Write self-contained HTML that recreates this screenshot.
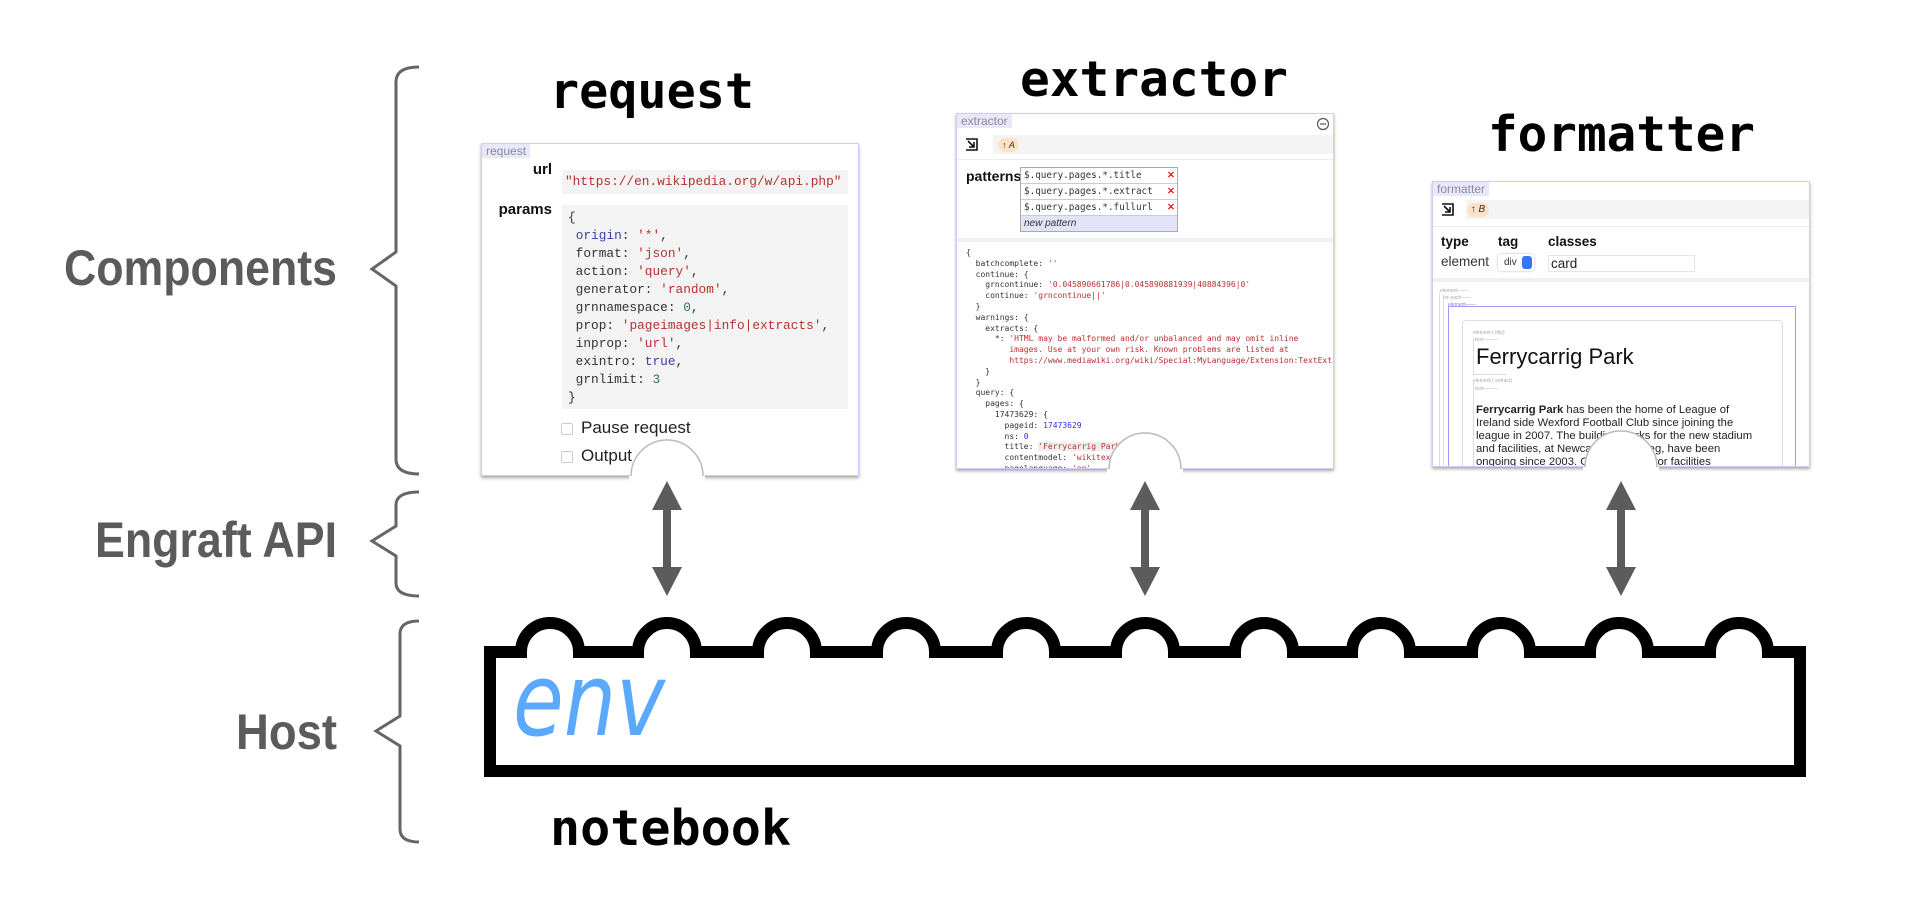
<!DOCTYPE html>
<html><head><meta charset="utf-8"><style>
*{margin:0;padding:0;box-sizing:border-box}
body{width:1920px;height:919px;background:#fff;position:relative;overflow:hidden;font-family:"Liberation Sans",sans-serif}
svg.layer{position:absolute;left:0;top:0}
.panel{position:absolute;background:#fff;border:1.5px solid #cfcdf3;box-shadow:0 2px 3px rgba(0,0,0,.35);overflow:hidden}
.abs{position:absolute}
.tag{position:absolute;left:0;top:0;background:#e9e8f9;color:#8a8aa0;font-size:12px;line-height:14px;padding:0 4px}
.mono{font-family:"DejaVu Sans Mono","Liberation Mono",monospace;white-space:pre}
.lmono{font-family:"Liberation Mono",monospace;white-space:pre}
.s{color:#b83030}.k{color:#4040a8}.n{color:#2a7a50}.b{color:#3030e0}
.lbl{font-weight:bold;color:#111}
.cb{position:absolute;width:12px;height:12px;border:1px solid #ccc;border-radius:2px;background:#fff}
.bar{position:absolute;background:#f4f4f4}
.pill{position:absolute;background:#fde3c4;border-radius:7px;font-size:10px;line-height:14px;font-style:italic;color:#333;text-align:center}
.tiny{position:absolute;font-size:5px;color:#aaa;line-height:6px}
</style></head><body>

<svg class="layer" width="1920" height="919" viewBox="0 0 1920 919">
  <g fill="none" stroke="#666" stroke-width="3" stroke-linejoin="miter">
    <path d="M419,67 Q396,67 396,82 V252 L372,269 L396,286 V459 Q396,474 419,474"/>
    <path d="M419,492 Q396,492 396,505 V526 L372,541 L396,556 V583 Q396,596 419,596"/>
    <path d="M419,621 Q400,621 400,634 V716 L376,731 L400,746 V829 Q400,842 419,842"/>
  </g>
  <g font-family="Liberation Sans, sans-serif" font-weight="bold" fill="#5b5b5b" font-size="50">
    <text x="64" y="285" textLength="273" lengthAdjust="spacingAndGlyphs">Components</text>
    <text x="95" y="557" textLength="242" lengthAdjust="spacingAndGlyphs">Engraft API</text>
    <text x="236" y="749" textLength="101" lengthAdjust="spacingAndGlyphs">Host</text>
  </g>
  <g font-family="DejaVu Sans Mono, Liberation Mono, monospace" font-weight="bold" fill="#000" font-size="49">
    <text x="550" y="108" textLength="204" lengthAdjust="spacingAndGlyphs">request</text>
    <text x="1020" y="96" textLength="268" lengthAdjust="spacingAndGlyphs">extractor</text>
    <text x="1488" y="151" textLength="267" lengthAdjust="spacingAndGlyphs">formatter</text>
    <text x="550" y="845" textLength="241" lengthAdjust="spacingAndGlyphs">notebook</text>
  </g>
  <path fill="#fff" stroke="#000" stroke-width="12" stroke-linejoin="miter"
    d="M490,652 H521 A29,29 0 0 1 579,652 H638 A29,29 0 0 1 696,652 H758 A29,29 0 0 1 816,652 H877 A29,29 0 0 1 935,652 H997 A29,29 0 0 1 1055,652 H1116 A29,29 0 0 1 1174,652 H1235 A29,29 0 0 1 1293,652 H1352 A29,29 0 0 1 1410,652 H1472 A29,29 0 0 1 1530,652 H1590 A29,29 0 0 1 1648,652 H1710 A29,29 0 0 1 1768,652 H1800 V771 H490 Z"/>
  <text x="513" y="735" font-family="DejaVu Sans, sans-serif" font-style="italic" font-size="101" fill="#5aa9ff" textLength="152" lengthAdjust="spacingAndGlyphs">env</text>
</svg>

<!-- request panel -->
<div class="panel" style="left:481px;top:143px;width:378px;height:333px">
  <div class="tag">request</div>
  <div class="abs lbl" style="left:0;top:17px;width:70px;text-align:right;font-size:15px">url</div>
  <div class="abs lmono s" style="left:80px;top:26px;width:286px;height:24px;background:#f3f3f3;font-size:12.8px;line-height:24px;padding-left:3px">"https://en.wikipedia.org/w/api.php"</div>
  <div class="abs lbl" style="left:0;top:57px;width:70px;text-align:right;font-size:15px">params</div>
  <div class="abs lmono" style="left:80px;top:61px;width:286px;height:204px;background:#f3f3f3;font-size:12.8px;line-height:18px;padding:4px 0 0 6px;color:#333">{
 <span class="k">origin</span>: <span class="s">'*'</span>,
 format: <span class="s">'json'</span>,
 action: <span class="s">'query'</span>,
 generator: <span class="s">'random'</span>,
 grnnamespace: <span class="n">0</span>,
 prop: <span class="s">'pageimages|info|extracts'</span>,
 inprop: <span class="s">'url'</span>,
 exintro: <span class="k">true</span>,
 grnlimit: <span class="n">3</span>
}</div>
  <div class="cb" style="left:79px;top:279px"></div>
  <div class="abs" style="left:99px;top:274px;font-size:17px;line-height:20px;color:#222">Pause request</div>
  <div class="cb" style="left:79px;top:307px"></div>
  <div class="abs" style="left:99px;top:302px;font-size:17px;line-height:20px;color:#222">Output all</div>
</div>

<!-- extractor panel -->
<div class="panel" style="left:956px;top:113px;width:378px;height:356px">
  <div class="tag">extractor</div>
  <svg class="abs" style="left:359px;top:3px" width="14" height="14"><circle cx="7" cy="7" r="5.5" fill="none" stroke="#555" stroke-width="1.2"/><line x1="4" y1="7" x2="10" y2="7" stroke="#555" stroke-width="1.2"/></svg>
  <div class="bar" style="left:36px;top:21px;width:341px;height:19px"></div>
  <svg class="abs" style="left:8px;top:24px" width="14" height="14"><path d="M1,1 H12 V12 H1" fill="none" stroke="#111" stroke-width="1.6"/><path d="M3,3 L9,9 M9,4 V9 H4" fill="none" stroke="#111" stroke-width="1.6"/></svg>
  <div class="pill" style="left:41px;top:24px;width:21px;font-size:9px">↑ A</div>
  <div class="abs" style="left:0;top:45px;width:378px;height:1px;background:#eceaf6"></div>
  <div class="abs lbl" style="left:9px;top:54px;font-size:14px">patterns</div>
  <div class="abs" style="left:63px;top:53px;width:158px;height:65px;border:1px solid #aaa;background:#fff">
    <div class="mono" style="height:16px;border-bottom:1px solid #ccc;font-size:9.3px;line-height:15px;padding-left:3px;color:#333;position:relative">$.query.pages.*.title<span style="position:absolute;left:146px;color:#e02020;font-weight:bold;font-family:'Liberation Sans'">✕</span></div>
    <div class="mono" style="height:16px;border-bottom:1px solid #ccc;font-size:9.3px;line-height:15px;padding-left:3px;color:#333;position:relative">$.query.pages.*.extract<span style="position:absolute;left:146px;color:#e02020;font-weight:bold;font-family:'Liberation Sans'">✕</span></div>
    <div class="mono" style="height:16px;border-bottom:1px solid #ccc;font-size:9.3px;line-height:15px;padding-left:3px;color:#333;position:relative">$.query.pages.*.fullurl<span style="position:absolute;left:146px;color:#e02020;font-weight:bold;font-family:'Liberation Sans'">✕</span></div>
    <div style="height:15px;background:#e2e2f8;font-size:10px;line-height:15px;font-style:italic;padding-left:3px;color:#333">new pattern</div>
  </div>
  <div class="abs" style="left:0;top:124px;width:378px;height:4px;background:#f0f0f2"></div>
  <div class="abs mono" style="left:9px;top:134px;font-size:8px;line-height:10.8px;color:#333">{
  batchcomplete: <span class="s">''</span>
  continue: {
    grncontinue: <span class="s">'0.045890661786|0.045890881939|40884396|0'</span>
    continue: <span class="s">'grncontinue||'</span>
  }
  warnings: {
    extracts: {
      *: <span class="s">'HTML may be malformed and/or unbalanced and may omit inline
         images. Use at your own risk. Known problems are listed at
         https://www.mediawiki.org/wiki/Special:MyLanguage/Extension:TextExt</span>
    }
  }
  query: {
    pages: {
      17473629: {
        pageid: <span class="b">17473629</span>
        ns: <span class="b">0</span>
        title: <span class="s" style="background:#eee">'Ferrycarrig Park'</span>
        contentmodel: <span class="s">'wikitext'</span>
        pagelanguage: <span class="s">'en'</span></div>
</div>

<!-- formatter panel -->
<div class="panel" style="left:1432px;top:181px;width:378px;height:286px">
  <div class="tag">formatter</div>
  <div class="bar" style="left:33px;top:18px;width:345px;height:19px"></div>
  <svg class="abs" style="left:8px;top:21px" width="14" height="14"><path d="M1,1 H12 V12 H1" fill="none" stroke="#111" stroke-width="1.6"/><path d="M3,3 L9,9 M9,4 V9 H4" fill="none" stroke="#111" stroke-width="1.6"/></svg>
  <div class="pill" style="left:34px;top:21px;width:22px">↑ B</div>
  <div class="abs" style="left:0;top:44px;width:378px;height:1px;background:#eceaf6"></div>
  <div class="abs lbl" style="left:8px;top:52px;font-size:13.5px">type</div>
  <div class="abs lbl" style="left:65px;top:52px;font-size:13.5px">tag</div>
  <div class="abs lbl" style="left:115px;top:52px;font-size:13.5px">classes</div>
  <div class="abs" style="left:8px;top:72px;font-size:13.5px;color:#333">element</div>
  <div class="abs" style="left:65px;top:72px;width:36px;height:17px;background:#fff;box-shadow:0 0 2px rgba(0,0,0,.3);border-radius:3px;font-size:10px;line-height:17px;padding-left:6px;color:#333">div<span style="position:absolute;right:2px;top:2px;width:10px;height:13px;background:#3478f6;border-radius:3px"></span></div>
  <div class="abs" style="left:115px;top:73px;width:147px;height:17px;border:1px solid #e5e5e5;font-size:13.5px;line-height:16px;padding-left:2px;color:#222">card</div>
  <div class="abs" style="left:0;top:96px;width:378px;height:4px;background:#efefef"></div>
  <div class="tiny" style="left:7px;top:106px">element——</div>
  <div class="abs" style="left:6px;top:110px;width:370px;height:200px;border-left:1px solid #ddd"></div>
  <div class="tiny" style="left:10px;top:113px">for-each——</div>
  <div class="abs" style="left:10px;top:117px;width:366px;height:200px;border-left:1px solid #ddd"></div>
  <div class="tiny" style="left:15px;top:120px;color:#8080e0">element——</div>
  <div class="abs" style="left:15px;top:124px;width:348px;height:200px;border:1px solid #9d9cf0"></div>
  <div class="abs" style="left:29px;top:138px;width:321px;height:200px;border:1px solid #ddd;border-radius:4px"></div>
  <div class="tiny" style="left:40px;top:148px">element (.title)</div>
  <div class="tiny" style="left:42px;top:155px">text———</div>
  <div class="abs" style="left:40px;top:155px;width:33px;height:38px;border-left:1px solid #ddd;border-bottom:1px solid #ddd"></div>
  <div class="abs" style="left:43px;top:163px;font-size:22px;line-height:24px;color:#111">Ferrycarrig Park</div>
  <div class="tiny" style="left:40px;top:196px">element (.extract)</div>
  <div class="tiny" style="left:42px;top:204px">text———</div>
  <div class="abs" style="left:40px;top:200px;width:20px;height:100px;border-left:1px solid #ddd"></div>
  <div class="abs" style="left:43px;top:222px;font-size:11.3px;line-height:13px;color:#222;white-space:nowrap"><b>Ferrycarrig Park</b> has been the home of League of<br>Ireland side Wexford Football Club since joining the<br>league in 2007. The building works for the new stadium<br>and facilities, at Newcastle, Drinabeg, have been<br>ongoing since 2003. Current spectator facilities</div>
</div>

<svg class="layer" width="1920" height="919" viewBox="0 0 1920 919">
  <g fill="#fff">
    <rect x="629" y="476" width="76" height="6"/>
    <rect x="1107" y="469" width="76" height="6"/>
    <rect x="1583" y="467" width="76" height="6"/>
  </g>
  <g fill="#fff" stroke="#bbb" stroke-width="1.5">
    <path d="M631,476 A36,36 0 0 1 703,476"/>
    <path d="M1109,469 A36,36 0 0 1 1181,469"/>
    <path d="M1585,467 A36,36 0 0 1 1657,467"/>
  </g>
  <g fill="#5c5c5c">
    <path d="M667,481 L682,510 H671 V567 H682 L667,596 L652,567 H663 V510 H652 Z"/>
    <path d="M1145,481 L1160,510 H1149 V567 H1160 L1145,596 L1130,567 H1141 V510 H1130 Z"/>
    <path d="M1621,481 L1636,510 H1625 V567 H1636 L1621,596 L1606,567 H1617 V510 H1606 Z"/>
  </g>
</svg>
</body></html>
